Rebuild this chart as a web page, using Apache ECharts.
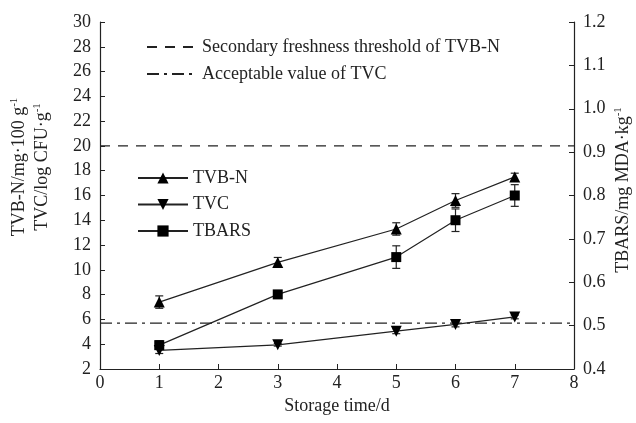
<!DOCTYPE html>
<html>
<head>
<meta charset="utf-8">
<script src="https://cdn.jsdelivr.net/npm/echarts@6/dist/echarts.min.js"></script>
<style>
  html, body { margin: 0; padding: 0; background: #fff; }
  #chart { width: 636px; height: 423px; }
</style>
</head>
<body>
<div id="chart"></div>
<script>
  // storage days
  var days = [1, 3, 5, 6, 7];
  // TVB-N, mg/100 g (left axis)
  var tvbn = [7.4, 10.6, 13.3, 15.6, 17.5];
  var tvbnErr = [0.5, 0.4, 0.5, 0.55, 0.3];
  // TVC, log CFU/g (left axis)
  var tvc = [3.5, 3.95, 5.05, 5.6, 6.2];
  var tvcErr = [0.25, 0.1, 0.2, 0.2, 0.15];
  // TBARS, mg MDA/kg (right axis)
  var tbars = [0.455, 0.572, 0.658, 0.743, 0.80];
  var tbarsErr = [0.01, 0.006, 0.026, 0.026, 0.025];
  // reference lines
  var tvbnLimit = 20;
  var tvcLimit = 5.7;

  var font = 'Liberation Serif';
  var ink = '#222';
  var fs = 18;

  function pairs(ys) {
    return days.map(function (d, i) { return [d, ys[i]]; });
  }
  function errData(ys, es) {
    return days.map(function (d, i) { return [d, ys[i] - es[i], ys[i] + es[i]]; });
  }
  function errBars(ys, es, axis) {
    return {
      type: 'custom',
      yAxisIndex: axis,
      z: 1,
      data: errData(ys, es),
      renderItem: function (params, api) {
        var lo = api.coord([api.value(0), api.value(1)]);
        var hi = api.coord([api.value(0), api.value(2)]);
        var w = 4;
        var st = { stroke: ink, lineWidth: 1.2 };
        return {
          type: 'group',
          children: [
            { type: 'line', shape: { x1: lo[0], y1: lo[1], x2: hi[0], y2: hi[1] }, style: st },
            { type: 'line', shape: { x1: lo[0] - w, y1: lo[1], x2: lo[0] + w, y2: lo[1] }, style: st },
            { type: 'line', shape: { x1: hi[0] - w, y1: hi[1], x2: hi[0] + w, y2: hi[1] }, style: st }
          ]
        };
      }
    };
  }
  function vLabel(x, y, main) {
    return {
      type: 'text', x: x, y: y, rotation: Math.PI / 2,
      style: {
        text: '{a|' + main + '}{s|-1}',
        align: 'center', verticalAlign: 'middle', fill: ink,
        rich: {
          a: { fontFamily: font, fontSize: fs, fill: ink, lineHeight: 20 },
          s: { fontFamily: font, fontSize: 11, fill: ink, verticalAlign: 'top', lineHeight: 20 }
        }
      }
    };
  }

  var chart = echarts.init(document.getElementById('chart'));
  var option = {
    backgroundColor: '#fff',
    animation: false,
    textStyle: { fontFamily: font, color: ink },
    grid: { left: 100, right: 62, top: 22, bottom: 54 },
    legend: [
      {
        data: [
          { name: 'Secondary freshness threshold of TVB-N', itemStyle: { opacity: 0 } },
          { name: 'Acceptable value of TVC', itemStyle: { opacity: 0 } }
        ],
        orient: 'vertical', left: 141, top: 33,
        itemWidth: 50, itemHeight: 14, itemGap: 9,
        textStyle: { fontFamily: font, fontSize: fs, lineHeight: 18, color: ink }
      },
      {
        data: ['TVB-N', 'TVC', 'TBARS'],
        orient: 'vertical', left: 132, top: 164,
        itemWidth: 50, itemHeight: 14, itemGap: 8.5,
        textStyle: { fontFamily: font, fontSize: fs, lineHeight: 18, color: ink }
      }
    ],
    xAxis: {
      type: 'value', min: 0, max: 8, interval: 1,
      name: 'Storage time/d', nameLocation: 'middle', nameGap: 28,
      nameTextStyle: { fontFamily: font, fontSize: fs, color: ink },
      axisLine: { lineStyle: { color: ink, width: 1.2 } },
      axisTick: { inside: true, length: 5, lineStyle: { color: ink } },
      axisLabel: { fontFamily: font, fontSize: fs, color: ink, margin: 5 },
      splitLine: { show: false }
    },
    yAxis: [
      {
        type: 'value', min: 2, max: 30, interval: 2, position: 'left',
        axisLine: { show: true, lineStyle: { color: ink, width: 1.2 } },
        axisTick: { show: true, inside: true, length: 5, lineStyle: { color: ink } },
        axisLabel: { fontFamily: font, fontSize: fs, color: ink, margin: 9 },
        splitLine: { show: false }
      },
      {
        type: 'value', min: 0.4, max: 1.2, interval: 0.1, position: 'right',
        axisLine: { show: true, lineStyle: { color: ink, width: 1.2 } },
        axisTick: { show: true, inside: true, length: 5, lineStyle: { color: ink } },
        axisLabel: {
          fontFamily: font, fontSize: fs, color: ink, margin: 9,
          formatter: function (v) { return v.toFixed(1); }
        },
        splitLine: { show: false }
      }
    ],
    graphic: [
      vLabel(19, 167, 'TVB-N/mg·100 g'),
      vLabel(42, 167, 'TVC/log CFU·g'),
      vLabel(623, 190, 'TBARS/mg MDA·kg')
    ],
    series: [
      {
        name: 'Secondary freshness threshold of TVB-N',
        type: 'line', symbol: 'none', silent: true,
        data: [[0, tvbnLimit], [8, tvbnLimit]],
        lineStyle: { color: ink, width: 1.2, type: [10, 8] },
        itemStyle: { color: ink }
      },
      {
        name: 'Acceptable value of TVC',
        type: 'line', symbol: 'none', silent: true,
        data: [[0, tvcLimit], [8, tvcLimit]],
        lineStyle: { color: ink, width: 1.2, type: [12, 5, 3, 5] },
        itemStyle: { color: ink }
      },
      errBars(tvbn, tvbnErr, 0),
      errBars(tvc, tvcErr, 0),
      errBars(tbars, tbarsErr, 1),
      {
        name: 'TVB-N', type: 'line', yAxisIndex: 0, z: 3,
        symbol: 'triangle', symbolSize: 11,
        data: pairs(tvbn),
        lineStyle: { color: ink, width: 1.2 },
        itemStyle: { color: '#000' }
      },
      {
        name: 'TVC', type: 'line', yAxisIndex: 0, z: 3,
        symbol: 'triangle', symbolRotate: 180, symbolSize: 11,
        data: pairs(tvc),
        lineStyle: { color: ink, width: 1.2 },
        itemStyle: { color: '#000' }
      },
      {
        name: 'TBARS', type: 'line', yAxisIndex: 1, z: 3,
        symbol: 'rect', symbolSize: 10,
        data: pairs(tbars),
        lineStyle: { color: ink, width: 1.2 },
        itemStyle: { color: '#000' }
      }
    ]
  };
  chart.setOption(option);
</script>
</body>
</html>
